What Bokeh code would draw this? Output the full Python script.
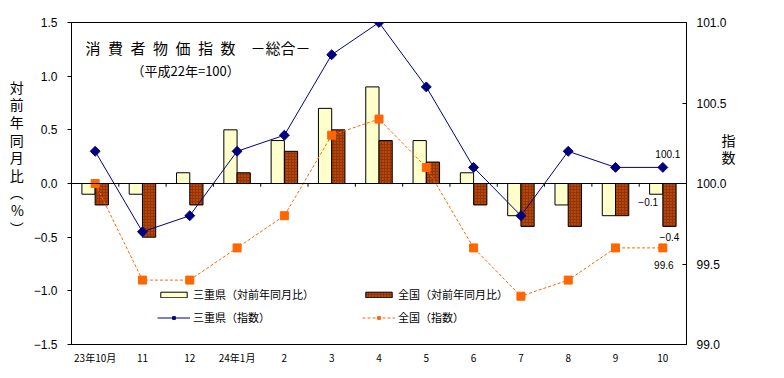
from bokeh.plotting import figure
from bokeh.models import (Range1d, LinearAxis, FixedTicker, Legend, LegendItem,
                          Label, Span, ColumnDataSource)
from bokeh.transform import dodge
from bokeh.embed import file_html
from bokeh.resources import INLINE

# ---- data ----
months = ["23年10月", "11", "12", "24年1月", "2", "3", "4", "5", "6", "7", "8", "9", "10"]
mie_yoy = [-0.1, -0.1, 0.1, 0.5, 0.4, 0.7, 0.9, 0.4, 0.1, -0.3, -0.2, -0.3, -0.1]
nat_yoy = [-0.2, -0.5, -0.2, 0.1, 0.3, 0.5, 0.4, 0.2, -0.2, -0.4, -0.4, -0.3, -0.4]
mie_idx = [100.2, 99.7, 99.8, 100.2, 100.3, 100.8, 101.0, 100.6, 100.1, 99.8, 100.2, 100.1, 100.1]
nat_idx = [100.0, 99.4, 99.4, 99.6, 99.8, 100.3, 100.4, 100.1, 99.6, 99.3, 99.4, 99.6, 99.6]
left_ticks = [-1.5, -1.0, -0.5, 0.0, 0.5, 1.0, 1.5]
right_ticks = [99.0, 99.5, 100.0, 100.5, 101.0]

title_text = "消\u2002費\u2002者\u2002物\u2002価\u2002指\u2002数\u3000－総合－"
subtitle_text = "（平成22年=100）"
left_label = "対\n前\n年\n同\n月\n比\n︵\n%\n︶"
right_label = "指\n数"

n = len(months)
src = ColumnDataSource(dict(i=list(range(n)), mie_yoy=mie_yoy, nat_yoy=nat_yoy,
                            mie_idx=mie_idx, nat_idx=nat_idx))

CJK = "Noto Sans CJK JP"
NUM = "Liberation Sans"
PAD = "\n\u3000"  # blank lines used to lift the stacked axis titles

p = figure(width=776, height=370, x_range=Range1d(-0.5, n - 0.5),
           y_range=Range1d(left_ticks[0], left_ticks[-1]),
           output_backend="svg", toolbar_location=None,
           min_border_left=71, min_border_right=90, min_border_top=22, min_border_bottom=26)
p.extra_y_ranges = {"idx": Range1d(right_ticks[0], right_ticks[-1])}
p.xgrid.visible = False
p.ygrid.visible = False
p.outline_line_color = "black"
p.outline_line_alpha = 1
p.background_fill_color = "white"
p.border_fill_color = "white"

# x axis
xa = p.xaxis[0]
xa.ticker = FixedTicker(ticks=list(range(n)))
xa.major_label_overrides = {i: m for i, m in enumerate(months)}
xa.major_tick_out = 0
xa.major_tick_in = 0
xa.minor_tick_out = 0
xa.minor_tick_in = 0
xa.axis_line_color = "black"
xa.major_label_text_font = CJK
xa.major_label_text_font_size = "10px"
xa.major_label_text_color = "black"
xa.major_label_standoff = 5

# left axis
ya = p.yaxis[0]
ya.ticker = FixedTicker(ticks=left_ticks)
ya.major_label_overrides = {t: (f"{t:.1f}".replace("-", "−")) for t in left_ticks}
ya.major_tick_out = 4
ya.major_tick_in = 0
ya.minor_tick_out = 0
ya.minor_tick_in = 0
ya.major_tick_line_color = "black"
ya.axis_line_color = "black"
ya.major_label_text_font = NUM
ya.major_label_text_font_size = "12px"
ya.major_label_text_color = "black"
ya.major_label_standoff = 10
ya.axis_label = left_label + PAD * 3
ya.axis_label_orientation = "horizontal"
ya.axis_label_text_font = CJK
ya.axis_label_text_font_size = "14px"
ya.axis_label_text_font_style = "normal"
ya.axis_label_text_color = "black"
ya.axis_label_text_line_height = 0.88
ya.axis_label_standoff = 7

# right axis
ra = LinearAxis(y_range_name="idx", ticker=FixedTicker(ticks=right_ticks))
ra.major_tick_out = 0
ra.major_tick_in = 4
ra.minor_tick_out = 0
ra.minor_tick_in = 0
ra.major_tick_line_color = "black"
ra.axis_line_color = "black"
ra.major_label_overrides = {t: f"{t:.1f}" for t in right_ticks}
ra.major_label_text_font = NUM
ra.major_label_text_font_size = "12px"
ra.major_label_text_color = "black"
ra.major_label_standoff = 10
ra.axis_label = right_label + PAD * 4
ra.axis_label_orientation = "horizontal"
ra.axis_label_text_font = CJK
ra.axis_label_text_font_size = "14px"
ra.axis_label_text_font_style = "normal"
ra.axis_label_text_color = "black"
ra.axis_label_text_line_height = 0.88
ra.axis_label_standoff = -8
p.add_layout(ra, "right")

# bars
bw = 0.28
mie_bar = p.vbar(x=dodge("i", -bw / 2), top="mie_yoy", bottom=0, width=bw, source=src,
                 fill_color="#FFFFCC", line_color="black", line_width=1)
nat_bar = p.vbar(x=dodge("i", bw / 2), top="nat_yoy", bottom=0, width=bw, source=src,
                 fill_color="#993300", line_color="black", line_width=1,
                 hatch_pattern="dot", hatch_color="#CC6633", hatch_scale=3, hatch_weight=0.8)

# zero line and category ticks on it
p.add_layout(Span(location=0, dimension="width", line_color="black", line_width=1))
p.segment(x0=[i + 0.5 for i in range(n - 1)], x1=[i + 0.5 for i in range(n - 1)],
          y0=[0] * (n - 1), y1=[-0.03] * (n - 1), line_color="black", line_width=1)

# lines
nat_line = p.line("i", "nat_idx", source=src, y_range_name="idx",
                  line_color="#FF6600", line_width=1, line_dash="3 2")
nat_pts = p.scatter("i", "nat_idx", source=src, y_range_name="idx", marker="square",
                    size=8, fill_color="#FF6600", line_color="#FF6600")
mie_line = p.line("i", "mie_idx", source=src, y_range_name="idx",
                  line_color="#000080", line_width=1)
mie_pts = p.scatter("i", "mie_idx", source=src, y_range_name="idx", marker="square",
                    angle=0.785398, size=7, fill_color="#000080", line_color="#000080")

# legends
def mk_legend(items, loc):
    lg = Legend(items=items, location=loc, orientation="vertical",
                padding=0, margin=0, spacing=7, glyph_width=33, glyph_height=7,
                label_height=12, label_standoff=3,
                label_text_font=CJK, label_text_font_size="11px", label_text_color="black",
                border_line_alpha=0, background_fill_alpha=0)
    return lg

p.add_layout(mk_legend([LegendItem(label="三重県（対前年同月比）", renderers=[mie_bar]),
                        LegendItem(label="三重県（指数）", renderers=[mie_line, mie_pts])],
                       (86, 19)))
p.add_layout(mk_legend([LegendItem(label="全国（対前年同月比）", renderers=[nat_bar]),
                        LegendItem(label="全国（指数）", renderers=[nat_line, nat_pts])],
                       (291, 19)))

# titles
p.add_layout(Label(x=14, y=297, x_units="screen", y_units="screen", text=title_text,
                   text_font=CJK, text_font_size="15px", text_color="black",
                   text_align="left", text_baseline="middle"))
p.add_layout(Label(x=60, y=274, x_units="screen", y_units="screen", text=subtitle_text,
                   text_font=CJK, text_font_size="13px", text_color="black",
                   text_align="left", text_baseline="middle"))

# value annotations for last month
last = n - 1
ann = dict(text_font=NUM, text_font_size="10px", text_color="black",
           text_align="center", text_baseline="middle")
p.add_layout(Label(x=last, y=mie_idx[last], y_range_name="idx", text=f"{mie_idx[last]:.1f}",
                   x_offset=5, y_offset=13, **ann))
p.add_layout(Label(x=last - bw / 2, y=mie_yoy[last], text=f"{mie_yoy[last]:.1f}".replace("-", "−"),
                   x_offset=-8, y_offset=-8, **ann))
p.add_layout(Label(x=last + bw / 2, y=nat_yoy[last], text=f"{nat_yoy[last]:.1f}".replace("-", "−"),
                   x_offset=0, y_offset=-11, **ann))
p.add_layout(Label(x=last, y=nat_idx[last], y_range_name="idx", text=f"{nat_idx[last]:.1f}",
                   x_offset=1, y_offset=-17, **ann))

open("out.html", "w").write(file_html(p, INLINE))
